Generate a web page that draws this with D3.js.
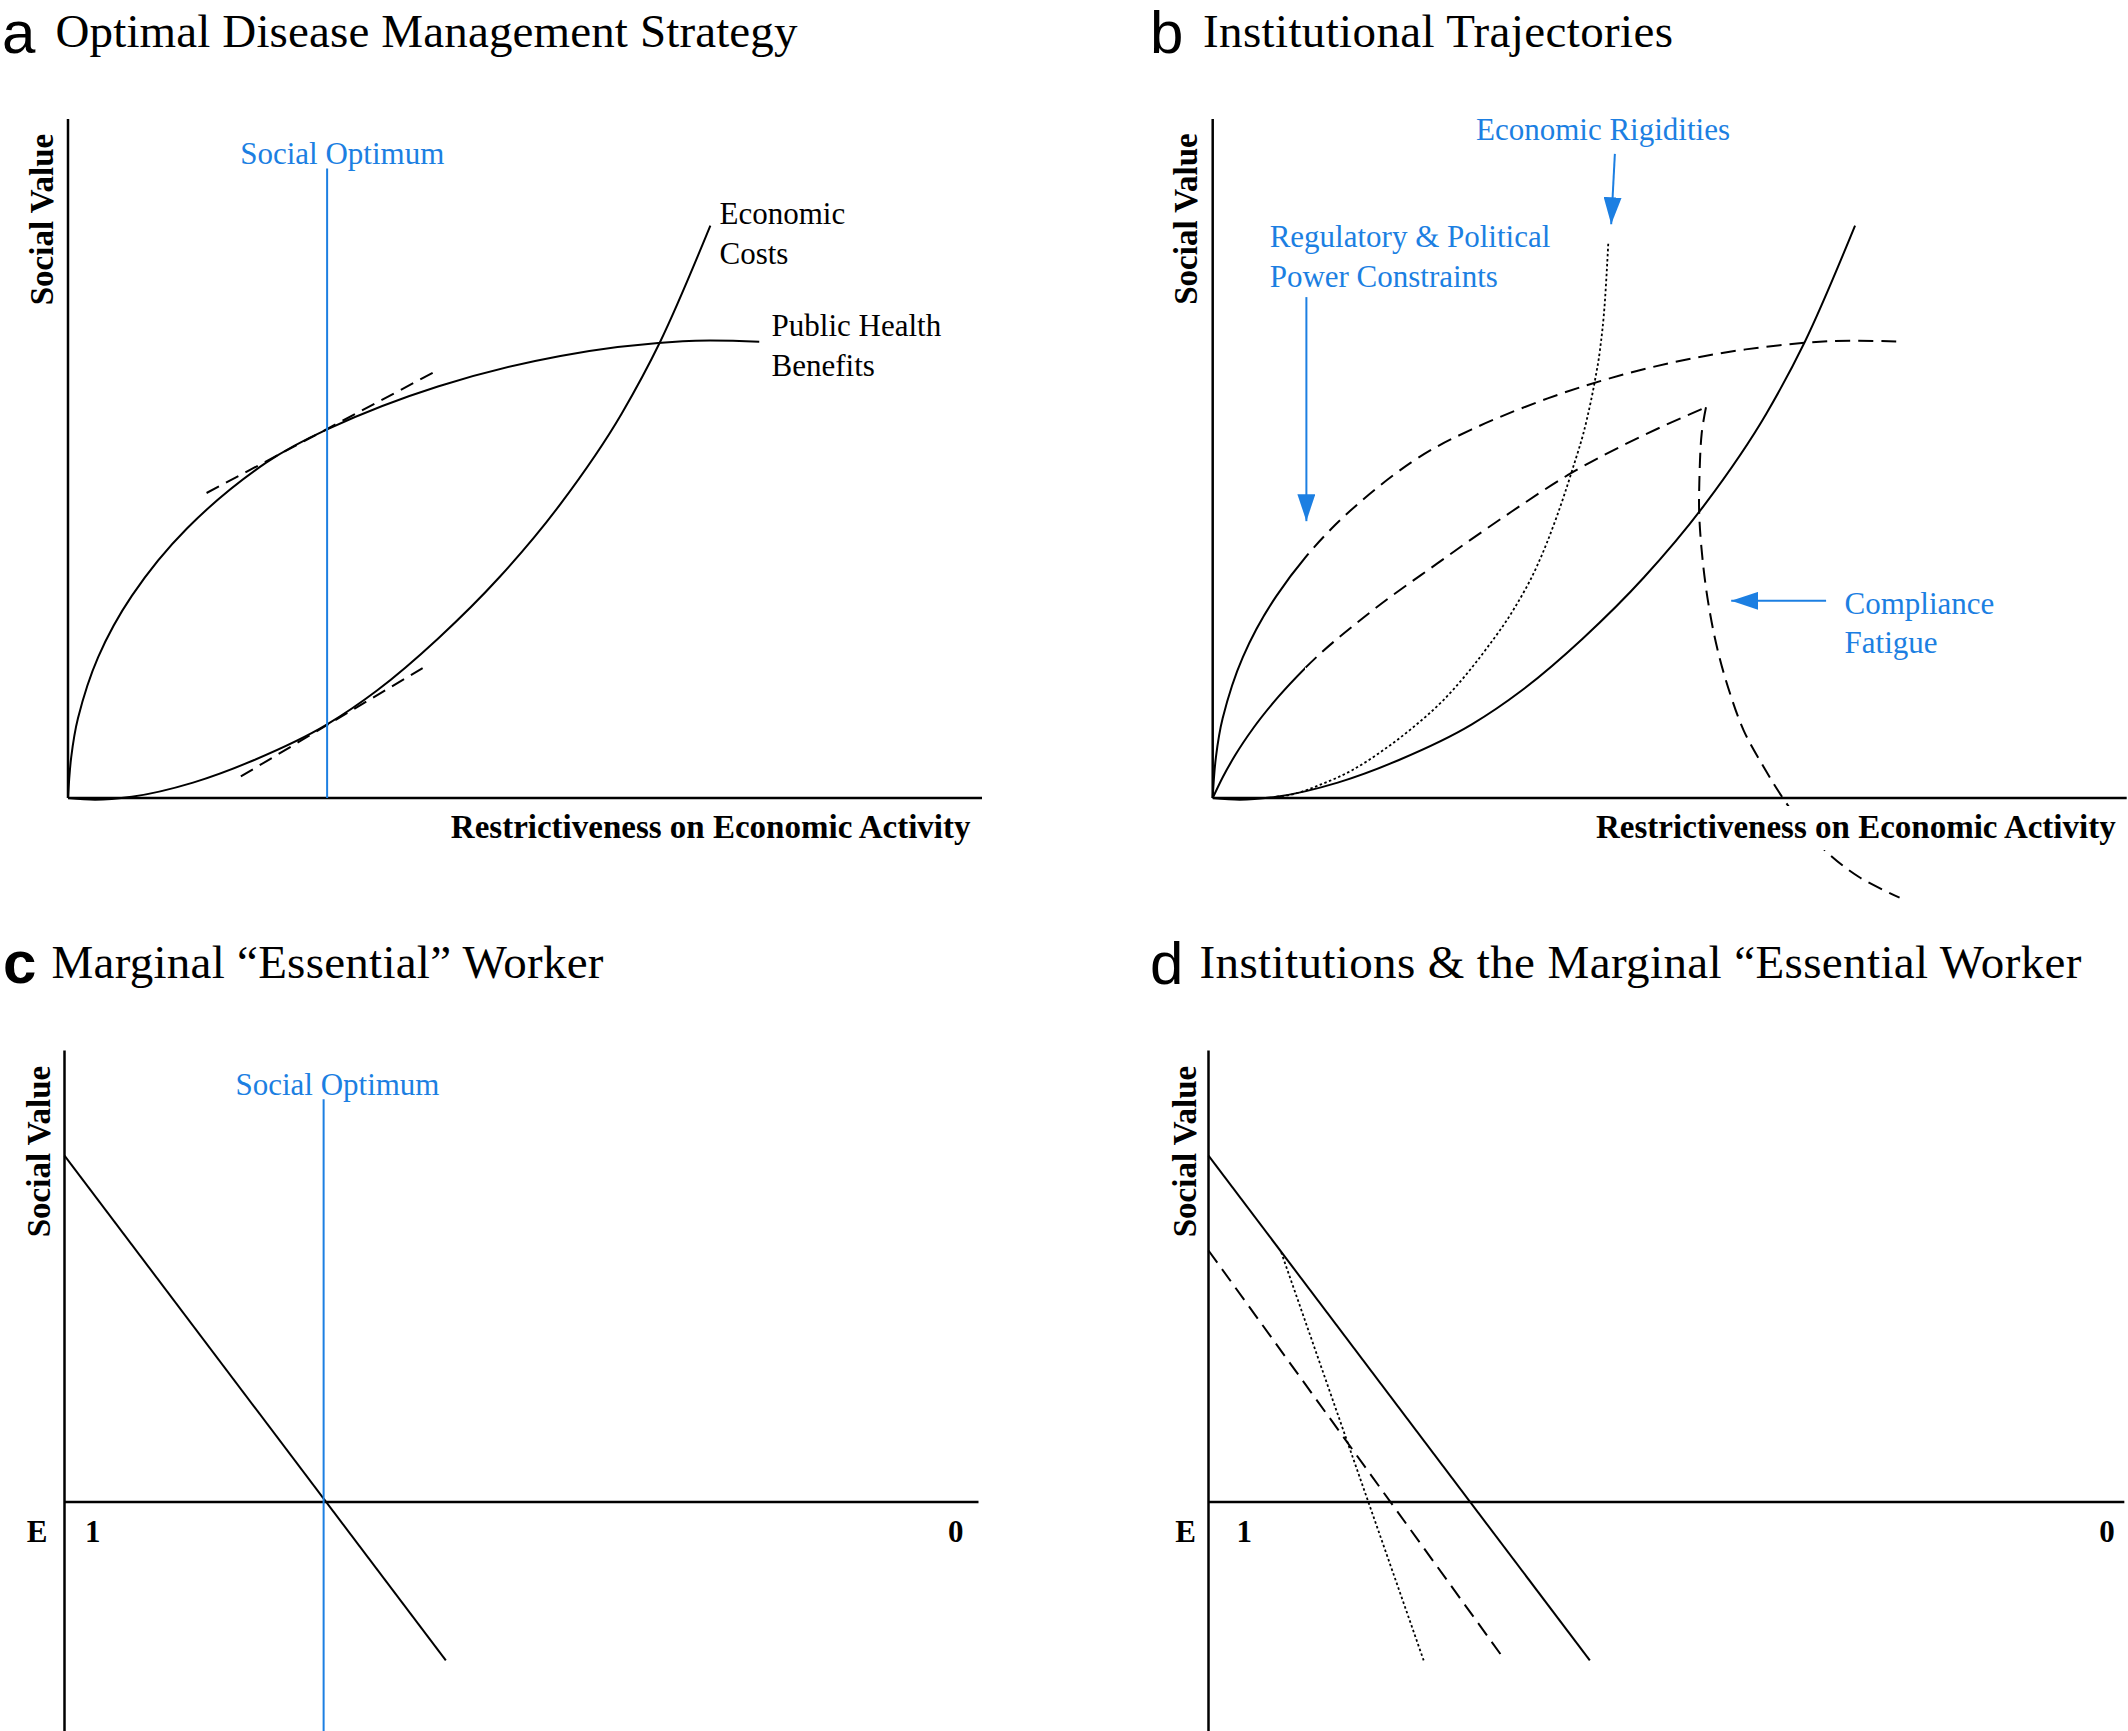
<!DOCTYPE html>
<html>
<head>
<meta charset="utf-8">
<script src="https://cdn.jsdelivr.net/npm/d3@7"></script>
<style>
  body { margin: 0; background: #fff; }
  svg { display: block; }
</style>
</head>
<body>
<div id="figure"></div>
<script>
// curves (x: restrictiveness 0-100, y: social value)
const healthX = [0, 0.35, 1.09, 3.30, 6.98, 13.01, 21.72, 28.35, 40.47, 53.87, 67.26, 75.63];
const healthY = [0, 6.0, 11.74, 20.75, 29.77, 39.69, 49.42, 54.29, 60.60, 65.11, 67.27, 67.18];

const costX = [0, 2.96, 6.98, 13.68, 20.38, 28.35, 33.77, 40.47, 47.17, 53.87, 60.57, 64.79, 70.28];
const costY = [0, -0.25, 0.19, 2.27, 5.60, 10.84, 15.79, 23.46, 32.47, 43.28, 56.6, 67.2, 84.3];

const tangentHealth = [[15.16, 44.92], [40.61, 63.12]];
const tangentCost = [[18.91, 3.17], [38.80, 19.13]];
const socialOptimumX = 28.35;

// panel b
const healthSolidUntil = 10.2;
const midRiseX = [0, 1.14, 2.47, 4.49, 7.17, 10.11, 17.14, 24.58, 31.95, 39.39, 46.82, 53.97];
const midRiseY = [0, 3.17, 6.32, 10.38, 14.89, 19.13, 27.25, 34.55, 41.49, 47.98, 53.21, 57.54];
const midSolidUntil = 10.11;
const fatigueX = [53.97, 53.5, 53.24, 53.24, 53.68, 54.35, 55.2, 56.4, 58.1, 60.3, 62.29, 64.77, 67.45, 70.80, 75.15];
const fatigueY = [57.54, 53.71, 46.35, 41.43, 34.06, 27.69, 22.05, 16.24, 9.93, 4.52, 0.19, -4.49, -8.28, -11.71, -14.68];
const rigidX = [6.98, 8.50, 11.85, 15.21, 18.56, 21.90, 25.25, 29.98, 32.89, 35.45, 37.64, 39.28, 40.92, 41.83, 42.37, 42.92, 43.28];
const rigidY = [0.19, 0.47, 2.0, 4.06, 6.95, 10.38, 14.43, 22.05, 27.69, 34.06, 41.43, 48.06, 55.67, 61.56, 65.98, 73.34, 81.69];

// panels c, d
const workerLine = [[0, 51.02], [41.72, -23.33]];
const workerDashed = [[0, 37.04], [32.45, -23.33]];
const workerDotted = [[7.95, 36.79], [23.54, -23.33]];
const essentialTicks = ['1', '0'];

const titles = ['Optimal Disease Management Strategy', 'Institutional Trajectories',
  'Marginal \u201CEssential\u201D Worker', 'Institutions & the Marginal \u201CEssential Worker'];
const letters = ['a', 'b', 'c', 'd'];

const W = 2128, H = 1731;
const SERIF = "'Liberation Serif', 'Times New Roman', serif";
const SANS = "'Liberation Sans', Arial, sans-serif";
const BLUE = '#1c7fe2';
const SMOOTH = d3.curveCatmullRom.alpha(0.5);

const zip = (xs, ys) => xs.map((x, i) => [x, ys[i]]);
const health = zip(healthX, healthY);
const cost = zip(costX, costY);

const svg = d3.select('#figure').append('svg')
  .attr('width', W)
  .attr('height', H)
  .style('background', '#fff');

const defs = svg.append('defs');
defs.append('marker')
  .attr('id', 'head')
  .attr('markerUnits', 'userSpaceOnUse')
  .attr('viewBox', '0 0 27 18')
  .attr('markerWidth', 27)
  .attr('markerHeight', 18)
  .attr('refX', 27)
  .attr('refY', 9)
  .attr('orient', 'auto')
  .append('path')
  .attr('d', 'M0,0 L27,9 L0,18 Z')
  .attr('fill', BLUE);

function clipRect(id, x0, x1) {
  defs.append('clipPath').attr('id', id)
    .append('rect')
    .attr('x', x0).attr('y', 0)
    .attr('width', x1 - x0).attr('height', H);
}

function makePanel(x0, y0) {
  return {
    x: d3.scaleLinear().domain([0, 100]).range([x0, x0 + 914]),
    y: d3.scaleLinear().domain([0, 100]).range([y0, y0 - 679])
  };
}

const pa = makePanel(68, 798);
const pb = makePanel(1212.7, 798);
const pc = makePanel(64.5, 1502);
const pd = makePanel(1208.5, 1502);

function curve(p, pts, dash, width, shape) {
  const line = d3.line()
    .x(d => p.x(d[0]))
    .y(d => p.y(d[1]))
    .curve(shape || d3.curveMonotoneX);
  return svg.append('path')
    .datum(pts)
    .attr('d', line)
    .attr('fill', 'none')
    .attr('stroke', '#000')
    .attr('stroke-width', width || 2)
    .attr('stroke-dasharray', dash || null);
}

function straight(p, pts, dash, color, width) {
  svg.append('line')
    .attr('x1', p.x(pts[0][0])).attr('y1', p.y(pts[0][1]))
    .attr('x2', p.x(pts[1][0])).attr('y2', p.y(pts[1][1]))
    .attr('stroke', color || '#000')
    .attr('stroke-width', width || 2)
    .attr('stroke-dasharray', dash || null);
}

function text(x, y, str, opts) {
  opts = opts || {};
  const t = svg.append('text')
    .attr('x', x)
    .attr('y', y)
    .attr('font-family', opts.family || SERIF)
    .attr('font-size', opts.size || 31)
    .attr('font-weight', opts.weight || 'normal')
    .attr('fill', opts.color || '#000')
    .attr('text-anchor', opts.anchor || 'start')
    .text(str);
  if (opts.rotate) t.attr('transform', `rotate(-90,${x},${y})`);
  if (opts.length) t.attr('textLength', opts.length).attr('lengthAdjust', 'spacing');
  return t;
}

function axes(p, yTop, yBottom, xEnd) {
  straight(p, [[0, yBottom], [0, yTop]], null, '#000', 2.5);
  straight(p, [[0, 0], [xEnd, 0]], null, '#000', 2.5);
}

function arrow(p, from, to) {
  svg.append('line')
    .attr('x1', p.x(from[0])).attr('y1', p.y(from[1]))
    .attr('x2', p.x(to[0])).attr('y2', p.y(to[1]))
    .attr('stroke', BLUE)
    .attr('stroke-width', 2)
    .attr('marker-end', 'url(#head)');
}

function xLabel(xEnd, masked) {
  const t = text(xEnd, 838, 'Restrictiveness on Economic Activity', { weight: 'bold', size: 33, anchor: 'end' });
  if (masked) {
    const b = t.node().getBBox();
    svg.insert('rect', () => t.node())
      .attr('x', b.x - 4).attr('y', 806)
      .attr('width', b.width + 8).attr('height', 44)
      .attr('fill', '#fff');
  }
}

// titles
const titleSpots = [[2, 53, 55.5, 47, 742], [1150, 53, 1203, 47, 470], [3, 983, 51.5, 978, 552], [1150, 984, 1199.5, 978, 882]];
titleSpots.forEach((s, i) => {
  text(s[0], s[1], letters[i], { family: SANS, size: 60, weight: i === 2 ? 'bold' : 'normal' });
  text(s[2], s[3], titles[i], { size: 47, length: s[4] });
});

// ---- a
axes(pa, 100, 0, 100);
curve(pa, health, null, 2, SMOOTH);
curve(pa, cost);
straight(pa, tangentHealth, '14,8');
straight(pa, tangentCost, '14,8');
straight(pa, [[socialOptimumX, 0], [socialOptimumX, 92.7]], null, BLUE, 2);
text(pa.x(18.84), pa.y(93.33), 'Social Optimum', { color: BLUE });
text(pa.x(71.28), pa.y(84.49), 'Economic');
text(pa.x(71.28), pa.y(78.64), 'Costs');
text(pa.x(76.98), pa.y(68.09), 'Public Health');
text(pa.x(76.98), pa.y(62.22), 'Benefits');
xLabel(970.5, false);
text(53, 219.5, 'Social Value', { weight: 'bold', size: 33, anchor: 'middle', rotate: true });

// ---- b
clipRect('bHealthL', 0, pb.x(healthSolidUntil));
clipRect('bHealthR', pb.x(healthSolidUntil), W);
clipRect('bMidL', 0, pb.x(midSolidUntil));
clipRect('bMidR', pb.x(midSolidUntil), W);

axes(pb, 100, 0, 100);
curve(pb, health, null, 2, SMOOTH).attr('clip-path', 'url(#bHealthL)');
curve(pb, health, '15,8', 2, SMOOTH).attr('clip-path', 'url(#bHealthR)');
const midRise = zip(midRiseX, midRiseY);
curve(pb, midRise).attr('clip-path', 'url(#bMidL)');
curve(pb, midRise, '15,8').attr('clip-path', 'url(#bMidR)');
curve(pb, zip(fatigueX, fatigueY), '15,8', 2, SMOOTH);
curve(pb, zip(rigidX, rigidY), '2.5,2.5', 1.8);
curve(pb, cost);

text(pb.x(28.81), pb.y(96.94), 'Economic Rigidities', { color: BLUE });
arrow(pb, [44.0, 94.86], [43.6, 84.49]);
text(pb.x(6.23), pb.y(81.16), 'Regulatory & Political', { color: BLUE });
text(pb.x(6.23), pb.y(75.30), 'Power Constraints', { color: BLUE });
arrow(pb, [10.25, 73.77], [10.25, 40.77]);
text(pb.x(69.13), pb.y(27.07), 'Compliance', { color: BLUE });
text(pb.x(69.13), pb.y(21.38), 'Fatigue', { color: BLUE });
arrow(pb, [67.11, 29.04], [56.73, 29.04]);
xLabel(2115.7, true);
text(1197, 219, 'Social Value', { weight: 'bold', size: 33, anchor: 'middle', rotate: true });

// ---- c
axes(pc, 66.5, -34, 100);
straight(pc, workerLine);
straight(pc, [[socialOptimumX, -34], [socialOptimumX, 59.3]], null, BLUE, 2);
text(pc.x(18.7), pc.y(59.94), 'Social Optimum', { color: BLUE });
text(49.5, 1151.5, 'Social Value', { weight: 'bold', size: 33, anchor: 'middle', rotate: true });

// ---- d
axes(pd, 66.5, -34, 100.2);
straight(pd, workerLine);
straight(pd, workerDashed, '15,8');
straight(pd, workerDotted, '2.5,2.5', null, 1.8);
text(1196, 1151.5, 'Social Value', { weight: 'bold', size: 33, anchor: 'middle', rotate: true });

// E axis ticks for c and d
[[pc, 47.5, 3.1, 97.5], [pd, 1196, 3.9, 98.3]].forEach(([p, ex, t1, t0]) => {
  text(ex, 1542, 'E', { weight: 'bold', size: 31, anchor: 'end' });
  text(p.x(t1), 1542, essentialTicks[0], { weight: 'bold', size: 31, anchor: 'middle' });
  text(p.x(t0), 1542, essentialTicks[1], { weight: 'bold', size: 31, anchor: 'middle' });
});
</script>
</body>
</html>
